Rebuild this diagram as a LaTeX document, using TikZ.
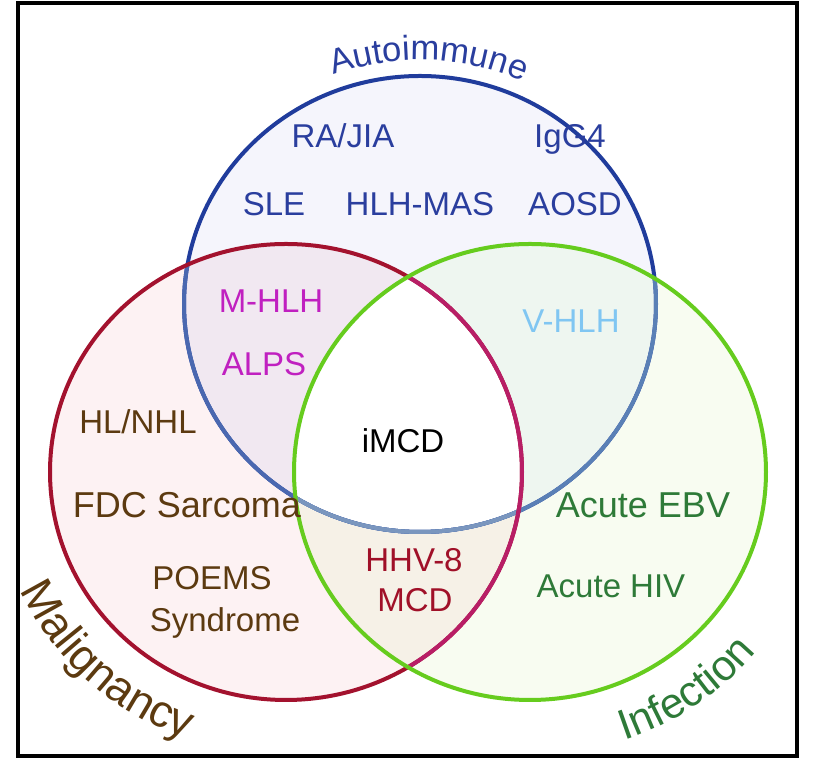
\documentclass[tikz,border=0pt]{standalone}
\usepackage{fontspec}
\setmainfont{Liberation Sans}
\usetikzlibrary{decorations.text}

% ring colours
\definecolor{autoring}{HTML}{203C9C}
\definecolor{maligring}{HTML}{A3122E}
\definecolor{infecring}{HTML}{66CC1E}
% ring segments seen through the fills
\definecolor{autoinmalig}{HTML}{4A68B0}
\definecolor{autoininfec}{HTML}{5A80B6}
\definecolor{autoinboth}{HTML}{7A96BE}
\definecolor{maliginfec}{HTML}{B81E66}
% region fills
\definecolor{autofill}{HTML}{F5F5FC}
\definecolor{maligfill}{HTML}{FDF2F3}
\definecolor{infecfill}{HTML}{F8FCF1}
\definecolor{amfill}{HTML}{F1E8F1}
\definecolor{aifill}{HTML}{EEF6F0}
\definecolor{mifill}{HTML}{F6F1E7}
% text colours
\definecolor{autotextc}{HTML}{2A3E9E}
\definecolor{maligtextc}{HTML}{5C3A10}
\definecolor{infectextc}{HTML}{2E7A38}
\definecolor{mhlhc}{HTML}{C020C0}
\definecolor{vhlhc}{HTML}{80C6F2}
\definecolor{hhvc}{HTML}{A01028}

\newcommand\vennfont{\fontsize{24.75pt}{29pt}\selectfont}
\newcommand\widefont{\fontsize{27pt}{31pt}\selectfont}
\newcommand\titlefont{\fontsize{26pt}{30pt}\selectfont}
\newcommand\bigtitlefont{\fontsize{32pt}{36pt}\selectfont}
\newcommand\maligfont{\fontsize{34pt}{38pt}\selectfont}
\def\rx{236}
\def\ry{228}

\begin{document}
\begin{tikzpicture}[x=0.75pt,y=0.75pt,
    ring/.style={line width=3pt},
    venntext/.style={font=\vennfont, inner sep=0pt, anchor=base},
    autotext/.style={venntext, text=autotextc},
    maligtext/.style={venntext, text=maligtextc},
    infectext/.style={venntext, text=infectextc}]
    \useasboundingbox (0,0) rectangle (819,760);
    % Frame
    \draw [line width=3pt] (18,4) rectangle (797,757);

    % Circle centres
    \coordinate (auto) at (420,456);
    \coordinate (malig) at (286,288);
    \coordinate (infec) at (530,288);

    % Fills
    \fill [autofill] (auto) ellipse [x radius=\rx, y radius=\ry];
    \fill [maligfill] (malig) ellipse [x radius=\rx, y radius=\ry];
    \fill [infecfill] (infec) ellipse [x radius=\rx, y radius=\ry];
    \begin{scope}
        \clip (auto) ellipse [x radius=\rx, y radius=\ry];
        \fill [amfill] (malig) ellipse [x radius=\rx, y radius=\ry];
        \fill [aifill] (infec) ellipse [x radius=\rx, y radius=\ry];
    \end{scope}
    \begin{scope}
        \clip (malig) ellipse [x radius=\rx, y radius=\ry];
        \fill [mifill] (infec) ellipse [x radius=\rx, y radius=\ry];
        \clip (auto) ellipse [x radius=\rx, y radius=\ry];
        \fill [white] (infec) ellipse [x radius=\rx, y radius=\ry];
    \end{scope}

    % Autoimmune ring
    \draw [ring, autoring] (auto) ellipse [x radius=\rx, y radius=\ry];
    \begin{scope}
        \clip (malig) ellipse [x radius=\rx, y radius=\ry];
        \draw [ring, autoinmalig] (auto) ellipse [x radius=\rx, y radius=\ry];
    \end{scope}
    \begin{scope}
        \clip (infec) ellipse [x radius=\rx, y radius=\ry];
        \draw [ring, autoininfec] (auto) ellipse [x radius=\rx, y radius=\ry];
        \clip (malig) ellipse [x radius=\rx, y radius=\ry];
        \draw [ring, autoinboth] (auto) ellipse [x radius=\rx, y radius=\ry];
    \end{scope}
    % Malignancy ring
    \draw [ring, maligring] (malig) ellipse [x radius=\rx, y radius=\ry];
    \begin{scope}
        \clip (infec) ellipse [x radius=\rx, y radius=\ry];
        \draw [ring, maliginfec] (malig) ellipse [x radius=\rx, y radius=\ry];
    \end{scope}
    % Infection ring
    \draw [ring, infecring] (infec) ellipse [x radius=\rx, y radius=\ry];

    % Curved titles
    \path [shift={(auto)}, decorate, decoration={text along path, text align=center,
        text={|\titlefont\color{autotextc}|Autoimmune}}]
        (123:252 and 244) arc [start angle=123, end angle=53, x radius=252, y radius=244];
    \path [shift={(malig)}, decorate, decoration={text along path, text align=center,
        text={|\maligfont\color{maligtextc}|Malignancy}}]
        (180:292 and 284) arc [start angle=180, end angle=274, x radius=292, y radius=284];
    \path [shift={(infec)}, decorate, decoration={text along path, text align=center,
        text={|\bigtitlefont\color{infectextc}|Infection}}]
        (272:292 and 284) arc [start angle=272, end angle=338, x radius=292, y radius=284];

    % Text Nodes
    \node [autotext] (rajia) at (343,612) {RA/JIA};
    \node [autotext] (igg) at (570,612) {IgG4};
    \node [autotext] (sle) at (274,544) {SLE};
    \node [autotext] (hlhmas) at (420,544) {HLH-MAS};
    \node [autotext] (aosd) at (575,544) {AOSD};
    \node [venntext, text=mhlhc] (mhlh) at (271,447) {M-HLH};
    \node [venntext, text=mhlhc] (alps) at (264,384) {ALPS};
    \node [venntext, text=vhlhc] (vhlh) at (571,427) {V-HLH};
    \node [venntext] (imcd) at (403,307) {iMCD};
    \node [venntext, text=hhvc] (hhv) at (414,188) {HHV-8};
    \node [venntext, text=hhvc] (mcd) at (415,148) {MCD};
    \node [maligtext] (hlnhl) at (138,326) {HL/NHL};
    \node [maligtext, font=\widefont] (fdc) at (187,242) {FDC Sarcoma};
    \node [maligtext] (poems) at (212,170) {POEMS};
    \node [maligtext] (syndrome) at (225,128) {Syndrome};
    \node [infectext, font=\widefont] (ebv) at (643,242) {Acute EBV};
    \node [infectext] (hiv) at (611,162) {Acute HIV};
\end{tikzpicture}
\end{document}
